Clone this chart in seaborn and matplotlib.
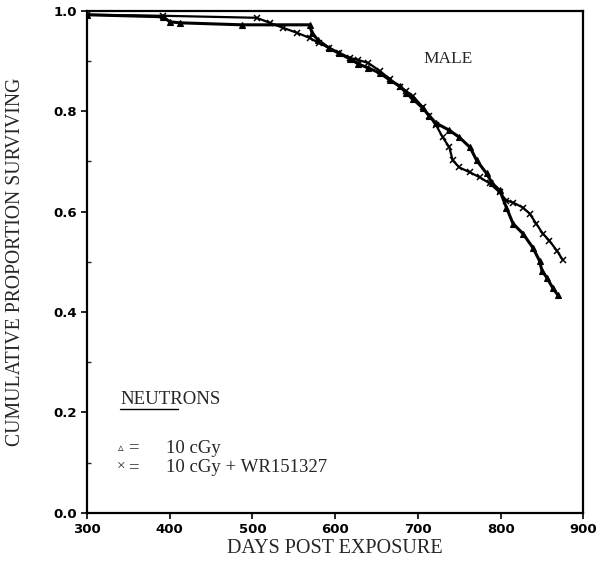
import pandas as pd
import matplotlib
matplotlib.use("Agg")
import matplotlib.pyplot as plt
import seaborn as sns
from matplotlib.ticker import MultipleLocator

# Kaplan-Meier style survival
days_10cgy = [300, 392, 400, 412, 487, 569, 572, 579, 593, 605, 618, 628, 640, 654, 666,
              678, 686, 694, 706, 714, 722, 738, 750, 763, 771, 783, 790, 799, 807,
              815, 827, 839, 847, 850, 856, 863, 869]
surv_10cgy = [0.992, 0.988, 0.978, 0.976, 0.972, 0.972, 0.956, 0.942, 0.925, 0.915, 0.904,
              0.894, 0.886, 0.876, 0.862, 0.850, 0.836, 0.824, 0.806, 0.790, 0.776,
              0.762, 0.748, 0.728, 0.702, 0.676, 0.656, 0.642, 0.608, 0.576, 0.556,
              0.528, 0.502, 0.482, 0.468, 0.448, 0.434]

days_wr = [300, 392, 505, 521, 537, 554, 569, 580, 593, 605, 618, 628, 640, 654, 666,
           678, 686, 694, 706, 714, 722, 730, 738, 742, 750, 763, 775, 787, 799, 807,
           815, 827, 835, 843, 851, 859, 868, 875]
surv_wr = [0.992, 0.990, 0.986, 0.976, 0.966, 0.956, 0.946, 0.936, 0.926, 0.916, 0.906,
           0.902, 0.896, 0.880, 0.864, 0.848, 0.840, 0.830, 0.808, 0.790, 0.772, 0.748,
           0.728, 0.702, 0.688, 0.678, 0.668, 0.656, 0.638, 0.622, 0.618, 0.608, 0.596,
           0.576, 0.556, 0.542, 0.522, 0.504]

df_a = pd.DataFrame({"day": days_10cgy, "surv": surv_10cgy})
df_x = pd.DataFrame({"day": days_wr, "surv": surv_wr})

sns.set_style("ticks")
serif = ["Liberation Serif", "DejaVu Serif"]

fig = plt.figure(figsize=(5.98, 5.66), dpi=100)
ax = fig.add_axes([0.1455, 0.094, 0.83, 0.887])

sns.lineplot(data=df_a, x="day", y="surv", ax=ax, color="black", lw=2.2, sort=False,
             marker="^", markersize=4.5, markeredgewidth=0.8,
             markerfacecolor="black", markeredgecolor="black")
sns.lineplot(data=df_x, x="day", y="surv", ax=ax, color="black", lw=1.6, sort=False,
             marker="x", markersize=5, markeredgewidth=1.1,
             markerfacecolor="black", markeredgecolor="black")

ax.set_xlim(300, 900)
ax.set_ylim(0, 1.0)
ax.xaxis.set_major_locator(MultipleLocator(100))
ax.yaxis.set_major_locator(MultipleLocator(0.2))
ax.yaxis.set_minor_locator(MultipleLocator(0.1))
ax.yaxis.set_major_formatter(matplotlib.ticker.FormatStrFormatter("%.1f"))

for s in ax.spines.values():
    s.set_visible(True)
    s.set_linewidth(1.6)
    s.set_color("black")

ax.tick_params(axis="both", which="major", direction="out", length=4, width=1.2,
               labelsize=9.5, colors="black")
ax.tick_params(axis="y", which="minor", direction="in", length=3, width=1)
for lab in ax.get_xticklabels() + ax.get_yticklabels():
    lab.set_fontweight("bold")
    lab.set_family("DejaVu Sans")

ax.set_xlabel("DAYS POST EXPOSURE", family=serif, fontsize=14.5, labelpad=2)
ax.set_ylabel("CUMULATIVE PROPORTION SURVIVING", family=serif, fontsize=14.2, labelpad=20)

ax.text(737, 0.904, "MALE", family=serif, fontsize=12.5, ha="center", va="center")
ax.text(340, 0.226, "NEUTRONS", family=serif, fontsize=13.5, ha="left", va="center")
ax.plot([340, 410], [0.207, 0.207], color="black", lw=1)

# legend rows written as text, like the original
ax.text(341, 0.129, "\u25b5", family=["DejaVu Sans"], fontsize=8, ha="center", va="center")
ax.text(341, 0.090, "\u00d7", family=serif, fontsize=11, ha="center", va="center")
for yy in (0.129, 0.090):
    ax.text(356, yy, "=", family=serif, fontsize=13.5, ha="center", va="center")
ax.text(396, 0.129, "10 cGy", family=serif, fontsize=13.5, ha="left", va="center")
ax.text(396, 0.090, "10 cGy + WR151327", family=serif, fontsize=13.5, ha="left", va="center")

fig.savefig("out.png", dpi=100)
